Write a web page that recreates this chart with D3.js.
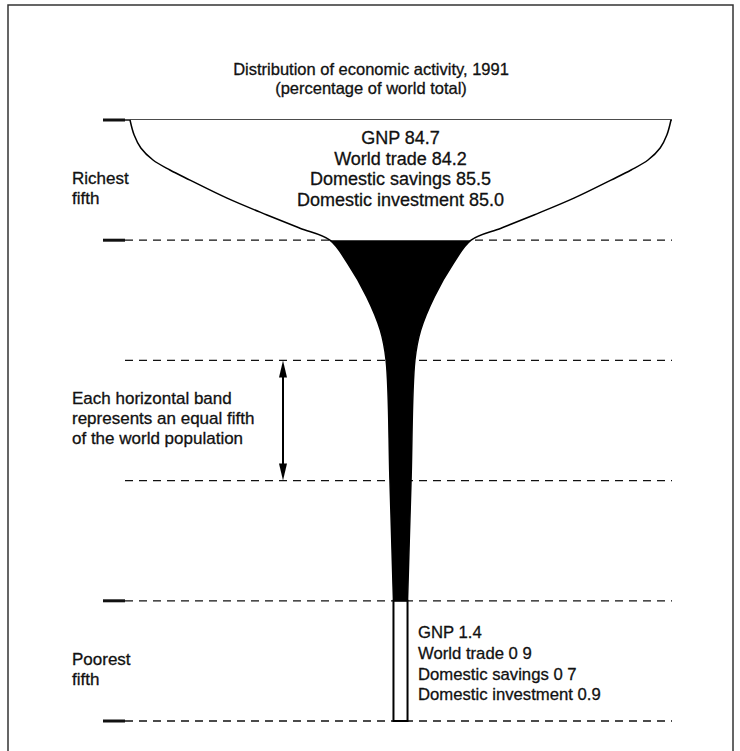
<!DOCTYPE html>
<html>
<head>
<meta charset="utf-8">
<script src="https://cdn.jsdelivr.net/npm/d3@7"></script>
<style>
  html, body { margin: 0; padding: 0; background: #fff; }
  svg { display: block; }
  text { font-family: 'Liberation Sans', Arial, Helvetica, sans-serif; fill: #111; stroke: #111; stroke-width: 0.3px; }
</style>
</head>
<body>
<div class="js-glass"></div>
<script>
// Distribution of economic activity, 1991 (percentage of world total)

const titleLines = ['Distribution of economic activity, 1991', '(percentage of world total)'];

const indicators = ['GNP', 'World trade', 'Domestic savings', 'Domestic investment'];
const richestShare = ['84.7', '84.2', '85.5', '85.0'];
const poorestShare = ['1.4', '0 9', '0 7', '0.9'];   // as printed

const bandLabels = [['Richest', 'fifth'], null, null, null, ['Poorest', 'fifth']];
const bandNote = ['Each horizontal band', 'represents an equal fifth', 'of the world population'];

// glass outline: band position (0 = rim, 5 = foot) and width in % of world GNP
const profilePos   = [0, 0.125, 0.233, 0.333, 0.416, 0.5, 0.65, 0.79, 0.9, 1, 1.19, 1.47, 1.75, 2, 3, 4];
const profileWidth = [84.7, 83.4, 81.3, 77.5, 72.2, 65.9, 54.3, 41.8, 31.5, 22.1, 16.6, 10.6, 6.3, 4.5, 3.3, 2.2];
const stemWidth = 2.2;

const width = 740, height = 751;
const cx = 400.5;

const svg = d3.select('.js-glass').append('svg')
  .attr('width', width).attr('height', height);

const y = d3.scaleLinear().domain([0, 5]).range([120, 721]);
const w = d3.scaleLinear().domain([0, 84.7]).range([0, 541]);

const profile = profilePos.map((p, i) => ({ pos: p, w: profileWidth[i] }));

// frame
svg.append('rect')
  .attr('x', 8).attr('y', 5).attr('width', 725).attr('height', 800)
  .attr('fill', 'none').attr('stroke', '#333').attr('stroke-width', 1.5);

// title
svg.append('g').selectAll('text').data(titleLines).enter().append('text')
  .attr('x', 371).attr('y', (d, i) => 75 + i * 19)
  .attr('text-anchor', 'middle').attr('font-size', 16.5)
  .text(d => d);

// band lines
const bands = d3.range(0, 6);
const lineLeft = 125, lineRight = 672;

svg.append('g').selectAll('line').data(bands.slice(1)).enter().append('line')
  .attr('x1', lineLeft).attr('x2', lineRight)
  .attr('y1', d => y(d)).attr('y2', d => y(d))
  .attr('stroke', '#111').attr('stroke-width', 1.3)
  .attr('stroke-dasharray', '8,6');

// rim
svg.append('line')
  .attr('x1', lineLeft).attr('x2', lineRight)
  .attr('y1', y(0)).attr('y2', y(0))
  .attr('stroke', '#111').attr('stroke-width', 1.3);

// thick ticks at the richest / poorest band edges
svg.append('g').selectAll('line').data([0, 1, 4, 5]).enter().append('line')
  .attr('x1', 103).attr('x2', lineLeft)
  .attr('y1', d => y(d)).attr('y2', d => y(d))
  .attr('stroke', '#111').attr('stroke-width', 3);

// glass body
const curve = d3.curveCatmullRom.alpha(0.5);

const area = d3.area()
  .y(d => y(d.pos))
  .x0(d => cx - w(d.w) / 2)
  .x1(d => cx + w(d.w) / 2)
  .curve(curve);

svg.append('defs').append('clipPath').attr('id', 'clip-dark')
  .append('rect')
  .attr('x', 0).attr('y', y(1)).attr('width', width).attr('height', y(4) - y(1));

svg.append('path')
  .datum(profile)
  .attr('d', area)
  .attr('fill', '#fff');

svg.append('path')
  .datum(profile)
  .attr('d', area)
  .attr('clip-path', 'url(#clip-dark)')
  .attr('fill', '#000');

const edge = side => d3.line()
  .y(d => y(d.pos))
  .x(d => cx + side * w(d.w) / 2)
  .curve(curve);

svg.append('g').selectAll('path').data([-1, 1]).enter().append('path')
  .attr('d', s => edge(s)(profile))
  .attr('fill', 'none').attr('stroke', '#000').attr('stroke-width', 1.5);

// stem (poorest fifth)
svg.append('rect')
  .attr('x', cx - w(stemWidth) / 2).attr('y', y(4))
  .attr('width', w(stemWidth)).attr('height', y(5) - y(4))
  .attr('fill', '#fff').attr('stroke', '#000').attr('stroke-width', 2);

// richest values
svg.append('g').selectAll('text').data(indicators).enter().append('text')
  .attr('x', cx).attr('y', (d, i) => 144 + i * 20.5)
  .attr('text-anchor', 'middle').attr('font-size', 18)
  .text((d, i) => d + ' ' + richestShare[i]);

// poorest values
svg.append('g').selectAll('text').data(indicators).enter().append('text')
  .attr('x', 418).attr('y', (d, i) => 638 + i * 20.8)
  .attr('font-size', 16.7)
  .text((d, i) => d + ' ' + poorestShare[i]);

// band labels
bandLabels.forEach((lab, b) => {
  if (!lab) return;
  svg.append('g').selectAll('text').data(lab).enter().append('text')
    .attr('x', 72).attr('y', (d, i) => (y(b) + y(b + 1)) / 2 + 4 + i * 20)
    .attr('font-size', 17)
    .text(d => d);
});

svg.append('g').selectAll('text').data(bandNote).enter().append('text')
  .attr('x', 72).attr('y', (d, i) => y(2) + 44 + i * 20)
  .attr('font-size', 17)
  .text(d => d);

// double-headed arrow across one band
const ax = 283;
svg.append('line')
  .attr('x1', ax).attr('x2', ax)
  .attr('y1', y(2) + 10).attr('y2', y(3) - 10)
  .attr('stroke', '#000').attr('stroke-width', 2);

svg.append('g').selectAll('path').data([[y(2), 1], [y(3), -1]]).enter().append('path')
  .attr('d', d => 'M' + ax + ',' + d[0] +
                  'L' + (ax - 4) + ',' + (d[0] + d[1] * 17) +
                  'L' + (ax + 4) + ',' + (d[0] + d[1] * 17) + 'Z')
  .attr('fill', '#000');
</script>
</body>
</html>
